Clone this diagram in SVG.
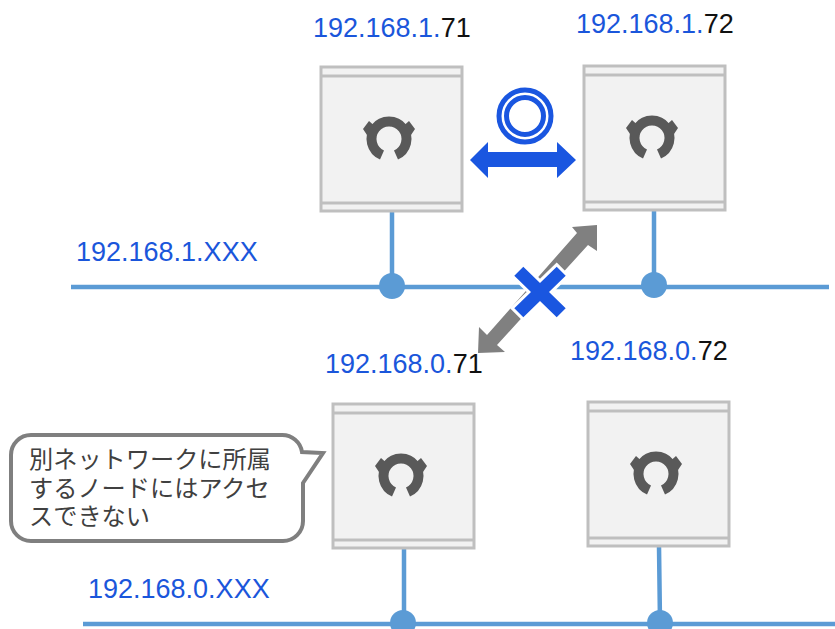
<svg xmlns="http://www.w3.org/2000/svg" xmlns:xlink="http://www.w3.org/1999/xlink" width="835" height="629" viewBox="0 0 835 629">
<style>
.net{fill:none;stroke:#5b9bd5;stroke-width:4.5}
.dot{fill:#5b9bd5}
.box{fill:#f2f2f2;stroke:#bfbfbf;stroke-width:3}
.ip{font-family:"Liberation Sans","Noto Sans CJK JP",sans-serif;font-size:27px;fill:#1a56db}
.ip tspan{fill:#111}
.note{font-family:"Noto Sans CJK JP",sans-serif;font-size:24.2px;fill:#404040}
</style>
<defs>
<g id="srv">
<rect class="box" x="0" y="0" width="141" height="144"/>
<path class="box" fill="none" d="M0 9H141M0 136H141"/>
<path d="M61 88A17.5 17.5 0 1 1 75 88" fill="none" stroke="#595959" stroke-width="10"/>
<path d="M42 62L48 54L57 62L50 74ZM94 62L88 54L79 62L86 74Z" fill="#595959"/>
</g>
</defs>
<g id="connectors">
<path class="net" d="M71 287H829"/>
<path class="net" d="M392 211V286M654 210V285"/>
<circle class="dot" cx="392" cy="286" r="13"/>
<circle class="dot" cx="654" cy="285" r="13"/>
<path class="net" d="M83 624H835"/>
<path class="net" d="M404 548V623M659 546L660 623"/>
<circle class="dot" cx="403" cy="623" r="13"/>
<circle class="dot" cx="660" cy="623" r="13"/>
<polygon id="grey-arrow" fill="#808080" points="597,225 572,227 577,233 487,335 479,327 478,353 505,352 497,345 588,245 597,251"/>
<polygon id="x-mark" fill="#1a56e0" stroke="#fff" stroke-width="6" paint-order="stroke" points="514.3,275.7 523.3,266.7 540,283 556.7,266.7 565.7,275.7 549,292 565.7,308.3 556.7,317.3 540,301 523.3,317.3 514.3,308.3 531,292"/>
<polygon id="ok-arrow" fill="#1a56e0" points="470,160 488,142 488,152 557,152 557,142 576,160 557,178 557,167 488,167 488,178"/>
<g id="ok-ring" fill="none" stroke="#1a56e0" stroke-width="5"><circle cx="525" cy="116" r="26"/><circle cx="525" cy="116" r="18.5"/></g>
</g>
<g id="node-71"><use href="#srv" x="321" y="67"/></g>
<g id="node-72"><use href="#srv" x="584" y="66"/></g>
<g id="node-071"><use href="#srv" x="333" y="404"/></g>
<g id="node-072"><use href="#srv" x="588" y="402"/></g>
<g id="labels">
<text class="ip" x="313" y="37">192.168.1.<tspan>71</tspan></text>
<text class="ip" x="576" y="33">192.168.1.<tspan>72</tspan></text>
<text class="ip" x="76" y="261">192.168.1.XXX</text>
<text class="ip" x="325" y="373">192.168.0.<tspan>71</tspan></text>
<text class="ip" x="570" y="360">192.168.0.<tspan>72</tspan></text>
<text class="ip" x="88" y="598">192.168.0.XXX</text>
</g>
<g id="callout">
<path d="M31 435H282A20 20 0 0 1 302 452L323 453L303 483V521A20 20 0 0 1 283 541H31A20 20 0 0 1 11 521V455A20 20 0 0 1 31 435Z" fill="#fff" stroke="#7f7f7f" stroke-width="4"/>
<text class="note"><tspan x="29" y="468">別ネットワークに所属</tspan><tspan x="29" y="497">するノードにはアクセ</tspan><tspan x="29" y="525">スできない</tspan></text>
</g>
</svg>
